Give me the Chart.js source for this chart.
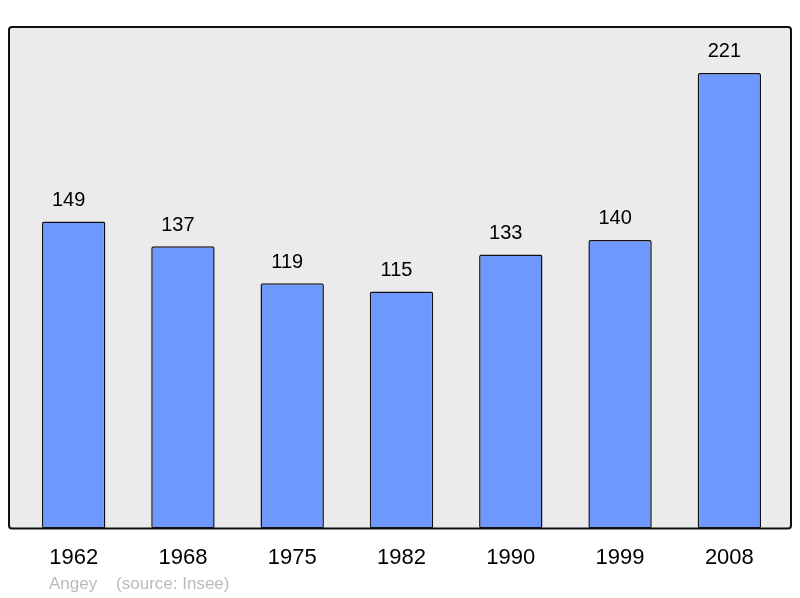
<!DOCTYPE html>
<html>
<head>
<meta charset="utf-8">
<script src="https://cdn.jsdelivr.net/npm/chart.js@4/dist/chart.umd.min.js"></script>
<style>
  html, body { margin:0; padding:0; background:#fff; }
  #wrap { width:800px; height:598px; position:relative; }
</style>
</head>
<body>
<div id="wrap"><canvas id="chartPop" width="800" height="598"></canvas></div>
<script>
const YEARS = ['1962','1968','1975','1982','1990','1999','2008'];
const POPULATION = [149, 137, 119, 115, 133, 140, 221];
const Y_MAX = 243.3;
const FOOTER = 'Angey    (source: Insee)';

// grey framed panel behind the bars
const panelBg = {
  id:'panelBg',
  beforeDatasetsDraw(chart) {
    const ctx = chart.ctx, a = chart.chartArea;
    ctx.save();
    ctx.beginPath();
    ctx.roundRect(a.left - 10, a.top, a.right - a.left + 17, a.bottom - a.top, 3);
    ctx.fillStyle = '#ebebeb';
    ctx.fill();
    ctx.lineWidth = 2;
    ctx.strokeStyle = '#111';
    ctx.stroke();
    ctx.restore();
  }
};

// value labels above bars (sit slightly left of centre) + footer text
const valueLabels = {
  id:'valueLabels',
  afterDatasetsDraw(chart) {
    const ctx = chart.ctx;
    ctx.save();
    ctx.font = '20px "Liberation Sans", Arial, sans-serif';
    ctx.fillStyle = '#000';
    ctx.textAlign = 'center';
    ctx.textBaseline = 'middle';
    chart.getDatasetMeta(0).data.forEach((bar, i) => {
      ctx.fillText(POPULATION[i], bar.x - 5, bar.y - 21);
    });
    ctx.font = '17px "Liberation Sans", Arial, sans-serif';
    ctx.fillStyle = '#bbbbbb';
    ctx.textAlign = 'left';
    ctx.fillText(FOOTER, 49, 584);
    ctx.restore();
  }
};

new Chart(document.getElementById('chartPop'), {
  type:'bar',
  data:{ labels:YEARS, datasets:[{ data:POPULATION, backgroundColor:'#6f98ff', borderColor:'#111',
    borderWidth:1.5, borderRadius:2, borderSkipped:false, categoryPercentage:1, barPercentage:0.58 }] },
  options:{ responsive:false, animation:false, devicePixelRatio:1,
    layout:{ padding:{ left:19, right:16, top:27, bottom:19 } },
    plugins:{ legend:{display:false}, tooltip:{enabled:false} },
    scales:{
      x:{ grid:{display:false}, border:{display:false},
        ticks:{ color:'#000', autoSkip:false, maxRotation:0, font:{family:'"Liberation Sans", Arial, sans-serif', size:22}, padding:8 } },
      y:{ display:false, min:0, max:Y_MAX }
    }
  },
  plugins:[panelBg, valueLabels]
});
</script>
</body>
</html>
